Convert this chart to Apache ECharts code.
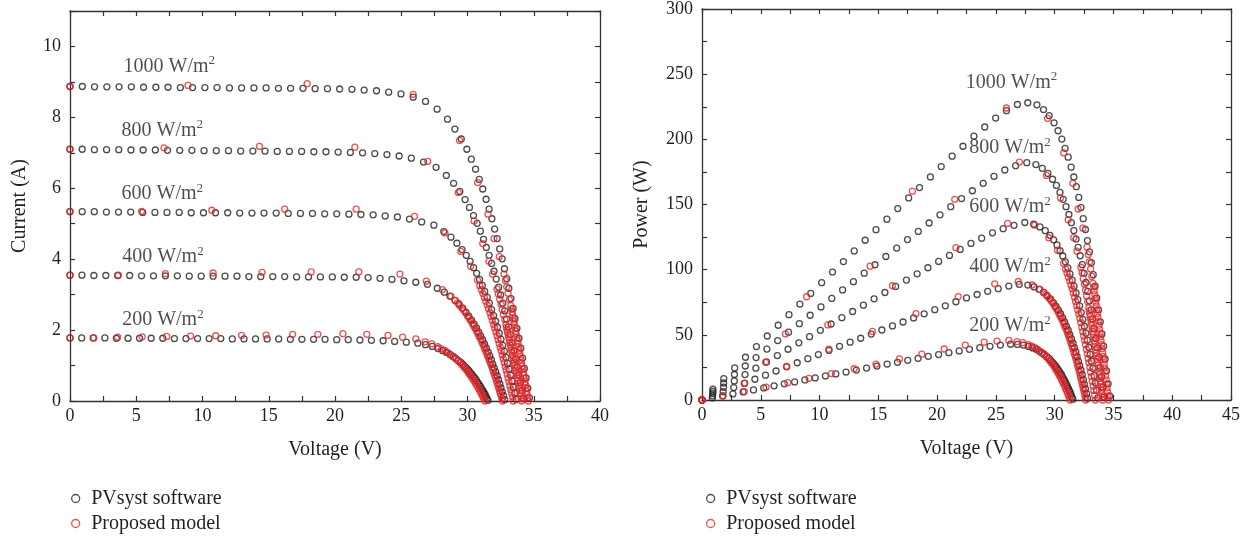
<!DOCTYPE html>
<html>
<head>
<meta charset="utf-8">
<script src="https://cdn.jsdelivr.net/npm/echarts@6/dist/echarts.min.js"></script>
<style>
  html, body { margin: 0; padding: 0; background: #fff; }
  #chart { width: 1249px; height: 537px; }
</style>
</head>
<body>
<div id="chart"></div>
<script>
// Irradiance levels (W/m2)
const irradiances = ['1000', '800', '600', '400', '200'];

// I–V samples, [voltage (V), current (A)] — PVsyst software
const pvsyst1000 = [[0,8.87],[0.93,8.87],[1.85,8.86],[2.78,8.86],[3.70,8.86],[4.63,8.86],[5.55,8.85],[6.48,8.85],[7.40,8.85],[8.33,8.84],[9.25,8.84],[10.18,8.84],[11.10,8.84],[12.03,8.83],[12.95,8.83],[13.88,8.83],[14.80,8.83],[15.73,8.82],[16.65,8.82],[17.58,8.82],[18.50,8.81],[19.43,8.81],[20.35,8.80],[21.28,8.79],[22.20,8.77],[23.13,8.75],[24.05,8.71],[24.98,8.66],[25.90,8.57],[26.83,8.45],[27.71,8.23],[28.49,7.95],[29.05,7.67],[29.53,7.39],[29.95,7.10],[30.29,6.82],[30.61,6.54],[30.89,6.25],[31.15,5.98],[31.40,5.69],[31.63,5.41],[31.84,5.14],[32.05,4.85],[32.24,4.58],[32.43,4.29],[32.62,4.01],[32.79,3.73],[32.96,3.45],[33.12,3.18],[33.28,2.89],[33.44,2.61],[33.58,2.33],[33.73,2.05],[33.88,1.77],[34.02,1.49],[34.16,1.21],[34.29,0.92],[34.42,0.65],[34.55,0.36],[34.68,0.09]];
const pvsyst800 = [[0,7.10],[0.92,7.10],[1.84,7.09],[2.76,7.09],[3.68,7.09],[4.60,7.08],[5.52,7.08],[6.44,7.08],[7.36,7.07],[8.28,7.07],[9.20,7.07],[10.12,7.06],[11.04,7.06],[11.96,7.06],[12.88,7.05],[13.80,7.05],[14.72,7.05],[15.64,7.04],[16.56,7.04],[17.48,7.04],[18.40,7.03],[19.32,7.03],[20.24,7.02],[21.16,7.01],[22.08,7.00],[23.00,6.98],[23.92,6.95],[24.84,6.91],[25.76,6.85],[26.68,6.74],[27.63,6.59],[28.40,6.36],[28.95,6.14],[29.42,5.91],[29.82,5.68],[30.15,5.46],[30.45,5.23],[30.73,5.01],[30.97,4.79],[31.21,4.56],[31.42,4.33],[31.63,4.11],[31.82,3.88],[32.00,3.66],[32.17,3.44],[32.35,3.21],[32.50,2.99],[32.66,2.76],[32.81,2.54],[32.95,2.31],[33.10,2.09],[33.23,1.87],[33.37,1.64],[33.50,1.41],[33.63,1.19],[33.75,0.97],[33.87,0.74],[33.99,0.52],[34.11,0.29],[34.22,0.07]];
const pvsyst600 = [[0,5.34],[0.92,5.34],[1.83,5.34],[2.75,5.33],[3.66,5.33],[4.58,5.33],[5.49,5.32],[6.41,5.32],[7.32,5.32],[8.24,5.32],[9.15,5.31],[10.07,5.31],[10.98,5.31],[11.90,5.31],[12.81,5.30],[13.73,5.30],[14.64,5.30],[15.56,5.30],[16.47,5.29],[17.39,5.29],[18.30,5.29],[19.22,5.28],[20.13,5.28],[21.05,5.27],[21.96,5.26],[22.88,5.25],[23.79,5.22],[24.71,5.19],[25.62,5.13],[26.54,5.05],[27.46,4.96],[28.21,4.78],[28.75,4.62],[29.20,4.45],[29.59,4.27],[29.91,4.11],[30.20,3.94],[30.46,3.76],[30.69,3.60],[30.91,3.43],[31.12,3.26],[31.30,3.09],[31.49,2.92],[31.65,2.76],[31.82,2.58],[31.97,2.41],[32.12,2.25],[32.26,2.08],[32.40,1.91],[32.53,1.74],[32.66,1.57],[32.78,1.40],[32.90,1.23],[33.02,1.06],[33.13,0.90],[33.25,0.73],[33.36,0.56],[33.46,0.39],[33.57,0.22],[33.67,0.05]];
const pvsyst400 = [[0,3.55],[0.90,3.55],[1.80,3.54],[2.70,3.54],[3.60,3.54],[4.50,3.54],[5.40,3.53],[6.30,3.53],[7.20,3.53],[8.10,3.53],[9.00,3.52],[9.90,3.52],[10.80,3.52],[11.70,3.52],[12.60,3.52],[13.50,3.51],[14.40,3.51],[15.30,3.51],[16.20,3.51],[17.10,3.50],[18.00,3.50],[18.90,3.50],[19.80,3.50],[20.70,3.49],[21.60,3.49],[22.50,3.48],[23.40,3.46],[24.30,3.43],[25.20,3.39],[26.10,3.35],[26.98,3.29],[27.72,3.18],[28.25,3.07],[28.68,2.96],[29.06,2.84],[29.36,2.73],[29.64,2.62],[29.89,2.50],[30.10,2.39],[30.31,2.28],[30.50,2.17],[30.68,2.06],[30.85,1.94],[31.00,1.83],[31.15,1.72],[31.29,1.60],[31.43,1.49],[31.56,1.38],[31.68,1.27],[31.80,1.16],[31.91,1.04],[32.02,0.93],[32.13,0.82],[32.24,0.71],[32.34,0.60],[32.44,0.48],[32.53,0.37],[32.62,0.26],[32.72,0.15],[32.80,0.04]];
const pvsyst200 = [[0,1.78],[0.88,1.78],[1.75,1.78],[2.63,1.78],[3.50,1.77],[4.38,1.77],[5.25,1.77],[6.13,1.77],[7.00,1.77],[7.88,1.76],[8.75,1.76],[9.63,1.76],[10.50,1.76],[11.38,1.76],[12.25,1.75],[13.13,1.75],[14.00,1.75],[14.88,1.75],[15.75,1.75],[16.63,1.74],[17.50,1.74],[18.38,1.74],[19.25,1.74],[20.13,1.73],[21.00,1.73],[21.88,1.72],[22.75,1.71],[23.63,1.70],[24.50,1.68],[25.38,1.66],[26.25,1.63],[26.83,1.59],[27.34,1.54],[27.77,1.48],[28.13,1.42],[28.42,1.37],[28.68,1.31],[28.92,1.25],[29.12,1.20],[29.32,1.14],[29.50,1.09],[29.66,1.03],[29.81,0.97],[29.95,0.92],[30.09,0.86],[30.22,0.80],[30.34,0.75],[30.46,0.69],[30.57,0.64],[30.67,0.58],[30.78,0.52],[30.87,0.47],[30.97,0.41],[31.06,0.35],[31.15,0.30],[31.23,0.24],[31.32,0.19],[31.39,0.13],[31.47,0.07],[31.55,0.02]];

// I–V samples, [voltage (V), current (A)] — proposed model
const model1000 = [[0,8.87],[8.9,8.90],[17.9,8.95],[25.9,8.65],[29.4,7.35],[30.77,6.16],[31.55,5.27],[32.0,4.58],[32.4,4.07],[32.75,3.58],[32.86,3.40],[32.96,3.22],[33.06,3.04],[33.16,2.86],[33.26,2.69],[33.31,2.60],[33.36,2.51],[33.41,2.42],[33.45,2.33],[33.50,2.24],[33.55,2.15],[33.59,2.06],[33.64,1.97],[33.68,1.88],[33.73,1.79],[33.77,1.70],[33.82,1.61],[33.86,1.52],[33.91,1.43],[33.95,1.34],[34.00,1.25],[34.04,1.16],[34.08,1.07],[34.12,0.98],[34.17,0.90],[34.21,0.81],[34.25,0.72],[34.29,0.63],[34.34,0.54],[34.38,0.45],[34.42,0.36],[34.46,0.27],[34.50,0.18],[34.54,0.09],[34.58,0]];
const model800 = [[0,7.10],[7.1,7.14],[14.3,7.18],[21.5,7.16],[27.0,6.76],[29.3,5.88],[30.5,5.08],[31.15,4.44],[31.62,3.94],[31.9,3.58],[32.23,3.16],[32.33,3.02],[32.43,2.87],[32.53,2.73],[32.62,2.58],[32.71,2.44],[32.81,2.30],[32.90,2.15],[32.94,2.08],[32.98,2.01],[33.03,1.94],[33.07,1.87],[33.11,1.80],[33.16,1.72],[33.20,1.65],[33.24,1.58],[33.28,1.51],[33.32,1.44],[33.36,1.36],[33.40,1.29],[33.44,1.22],[33.48,1.15],[33.52,1.08],[33.56,1.01],[33.60,0.93],[33.64,0.86],[33.68,0.79],[33.72,0.72],[33.76,0.65],[33.79,0.57],[33.83,0.50],[33.87,0.43],[33.91,0.36],[33.94,0.29],[33.98,0.22],[34.02,0.14],[34.05,0.07],[34.09,0]];
const model600 = [[0,5.35],[5.4,5.35],[10.7,5.38],[16.2,5.41],[21.6,5.41],[26.0,5.21],[28.3,4.74],[29.5,4.22],[30.24,3.80],[30.75,3.41],[30.93,3.25],[31.05,3.14],[31.16,3.03],[31.28,2.92],[31.38,2.81],[31.49,2.71],[31.59,2.60],[31.69,2.49],[31.78,2.38],[31.88,2.27],[31.97,2.16],[32.05,2.06],[32.14,1.95],[32.23,1.84],[32.31,1.73],[32.39,1.62],[32.47,1.51],[32.55,1.41],[32.63,1.30],[32.70,1.19],[32.78,1.08],[32.85,0.97],[32.92,0.87],[32.99,0.76],[33.06,0.65],[33.13,0.54],[33.20,0.43],[33.27,0.32],[33.33,0.22],[33.40,0.11],[33.46,0]];
const model400 = [[0,3.55],[3.65,3.55],[7.2,3.59],[10.8,3.61],[14.5,3.63],[18.2,3.64],[21.8,3.64],[24.9,3.58],[26.9,3.38],[28.1,3.14],[28.75,2.95],[29.06,2.84],[29.25,2.77],[29.42,2.69],[29.58,2.62],[29.73,2.55],[29.87,2.48],[30.00,2.40],[30.13,2.33],[30.25,2.26],[30.37,2.18],[30.48,2.11],[30.59,2.04],[30.69,1.97],[30.79,1.89],[30.88,1.82],[30.98,1.75],[31.07,1.67],[31.16,1.60],[31.24,1.53],[31.32,1.46],[31.40,1.38],[31.48,1.31],[31.56,1.24],[31.63,1.16],[31.71,1.09],[31.78,1.02],[31.85,0.95],[31.92,0.87],[31.98,0.80],[32.05,0.73],[32.11,0.66],[32.18,0.58],[32.24,0.51],[32.30,0.44],[32.36,0.36],[32.42,0.29],[32.48,0.22],[32.54,0.15],[32.59,0.07],[32.65,0]];
const model200 = [[0,1.78],[1.8,1.78],[3.6,1.80],[5.45,1.81],[7.3,1.82],[9.1,1.83],[11.0,1.84],[12.95,1.85],[14.8,1.86],[16.8,1.88],[18.7,1.88],[20.6,1.90],[22.4,1.88],[24.0,1.85],[25.1,1.80],[26.1,1.75],[26.8,1.67],[27.3,1.61],[27.76,1.53],[28.05,1.47],[28.31,1.42],[28.54,1.36],[28.75,1.30],[28.95,1.25],[29.12,1.19],[29.29,1.13],[29.44,1.08],[29.58,1.02],[29.72,0.96],[29.85,0.91],[29.97,0.85],[30.08,0.79],[30.19,0.74],[30.30,0.68],[30.40,0.62],[30.50,0.57],[30.59,0.51],[30.68,0.45],[30.77,0.40],[30.86,0.34],[30.94,0.28],[31.02,0.23],[31.10,0.17],[31.17,0.11],[31.25,0.06],[31.32,0]];

const pvsystCurves = [pvsyst1000, pvsyst800, pvsyst600, pvsyst400, pvsyst200];
const modelCurves = [model1000, model800, model600, model400, model200];

// Irradiance tag anchors in data units: [voltage, current] and [voltage, power]
const ivTagAnchors = [[4.0, 9.44], [3.85, 7.63], [3.85, 5.85], [3.9, 4.06], [3.9, 2.28]];
const pvTagAnchors = [[22.4, 243.7], [22.7, 193.5], [22.7, 148], [22.7, 102], [22.7, 57]];

const seriesNames = ['PVsyst software', 'Proposed model'];

const FONT = 'Liberation Serif';
const INK = '#231f20';
const BLACK = '#1f1f1f';
const RED = '#e8262b';

// power curve P = V * I from the I–V samples
const toPower = curve => curve.map(([v, i]) => [v, Math.round(v * i * 1000) / 1000]);

const labelEvery = step => v => (Math.abs(v / step - Math.round(v / step)) < 1e-6 ? String(v) : '');

function frameAxis(gridIndex, pos, min, max, interval, extra) {
  return Object.assign({
    type: 'value', gridIndex, position: pos, min, max, interval,
    axisLine: { show: true, onZero: false, lineStyle: { color: '#333', width: 1.3 } },
    axisTick: { show: true, inside: true, length: 5, lineStyle: { color: '#333', width: 1.2 } },
    axisLabel: { show: false },
    splitLine: { show: false }
  }, extra || {});
}

const tickLabel = (fmt, margin) => ({
  show: true, formatter: fmt, margin, color: INK, fontFamily: FONT, fontSize: 18
});
const nameStyle = { color: INK, fontFamily: FONT, fontSize: 20 };

const xAxis = [
  frameAxis(0, 'bottom', 0, 40, 2.5, { axisLabel: tickLabel(labelEvery(5), 6), name: 'Voltage (V)', nameLocation: 'middle', nameGap: 39, nameTextStyle: nameStyle }),
  frameAxis(0, 'top', 0, 40, 2.5),
  frameAxis(1, 'bottom', 0, 45, 2.5, { axisLabel: tickLabel(labelEvery(5), 6), name: 'Voltage (V)', nameLocation: 'middle', nameGap: 39, nameTextStyle: nameStyle }),
  frameAxis(1, 'top', 0, 45, 2.5)
];
const yAxis = [
  frameAxis(0, 'left', 0, 11, 1, { axisLabel: tickLabel(v => (v % 2 === 0 && v <= 10 ? String(v) : ''), 9), name: 'Current (A)', nameLocation: 'middle', nameGap: 40, nameRotate: 90, nameTextStyle: nameStyle }),
  frameAxis(0, 'right', 0, 11, 1),
  frameAxis(1, 'left', 0, 300, 25, { axisLabel: tickLabel(labelEvery(50), 9), name: 'Power (W)', nameLocation: 'middle', nameGap: 50, nameRotate: 90, nameTextStyle: nameStyle }),
  frameAxis(1, 'right', 0, 300, 25)
];

function markerSeries(name, color, data, axis) {
  return {
    type: 'scatter', name, data,
    xAxisIndex: axis, yAxisIndex: axis,
    symbol: 'circle', symbolSize: 6,
    itemStyle: { color: 'rgba(0,0,0,0)', borderColor: color, borderWidth: 1.3 },
    silent: true
  };
}

function tagSeries(anchors, axis) {
  return {
    type: 'scatter', name: 'tags', xAxisIndex: axis, yAxisIndex: axis,
    symbolSize: 1, itemStyle: { color: 'rgba(0,0,0,0)' }, silent: true, z: 10,
    data: anchors.map((p, k) => ({ value: p, name: irradiances[k] })),
    label: {
      show: true, position: 'right', distance: 0,
      formatter: p => '{a|' + p.name + ' W/m}{s|2}',
      rich: {
        a: { color: INK, fontFamily: FONT, fontSize: 20, lineHeight: 24, verticalAlign: 'middle' },
        s: { color: INK, fontFamily: FONT, fontSize: 13, lineHeight: 13, verticalAlign: 'top' }
      }
    }
  };
}

const series = [];
// IV chart (axis index 0) and PV chart (axis index 2)
pvsystCurves.forEach(c => series.push(markerSeries(seriesNames[0], BLACK, c, 0)));
pvsystCurves.forEach(c => series.push(markerSeries(seriesNames[0], BLACK, toPower(c), 2)));
modelCurves.forEach(c => series.push(markerSeries(seriesNames[1], RED, c, 0)));
modelCurves.forEach(c => series.push(markerSeries(seriesNames[1], RED, toPower(c), 2)));
series.push(tagSeries(ivTagAnchors, 0));
series.push(tagSeries(pvTagAnchors, 2));

const legendItems = [
  { name: seriesNames[0], icon: 'circle', itemStyle: { color: 'rgba(0,0,0,0)', borderColor: BLACK, borderWidth: 1.3 } },
  { name: seriesNames[1], icon: 'circle', itemStyle: { color: 'rgba(0,0,0,0)', borderColor: RED, borderWidth: 1.3 } }
];
const legendBase = {
  orient: 'vertical', top: 488, padding: 0, itemWidth: 21, itemHeight: 8, itemGap: 4,
  selectedMode: false, data: legendItems,
  textStyle: { color: INK, fontFamily: FONT, fontSize: 20, lineHeight: 21 }
};

const option = {
  animation: false,
  backgroundColor: '#fff',
  grid: [
    { left: 70, top: 11, width: 530, height: 390 },
    { left: 702, top: 8, width: 529, height: 392 }
  ],
  xAxis, yAxis,
  legend: [Object.assign({ left: 71 }, legendBase), Object.assign({ left: 706 }, legendBase)],
  series
};

const chart = echarts.init(document.getElementById('chart'), null, { renderer: 'canvas' });
chart.setOption(option);
</script>
</body>
</html>
